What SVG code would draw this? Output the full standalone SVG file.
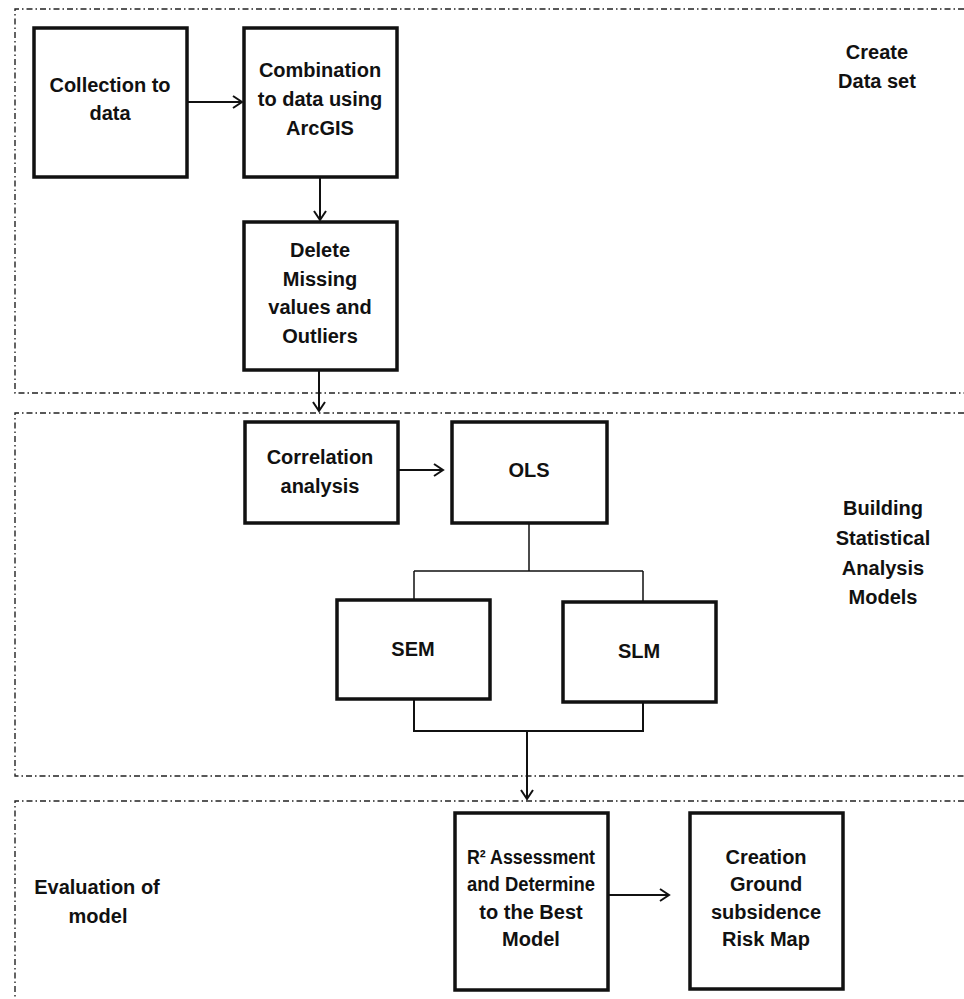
<svg xmlns="http://www.w3.org/2000/svg" width="964" height="999" viewBox="0 0 964 999">
<defs>
<marker id="arr" markerWidth="14" markerHeight="14" refX="11" refY="7" orient="auto" markerUnits="userSpaceOnUse">
<polyline points="2,1 11,7 2,13" fill="none" stroke="#111" stroke-width="2"/>
</marker>
<style>
.frame{fill:none;stroke:#222;stroke-width:1.4;stroke-dasharray:6,3,1.5,3}
.box{fill:#fff;stroke:#111;stroke-width:3.5}
.t{font-family:"Liberation Sans",Arial,sans-serif;font-weight:bold;font-size:20px;fill:#111;text-anchor:middle;dominant-baseline:central}
.c{fill:none;stroke:#111;stroke-width:2}
.thin{fill:none;stroke:#111;stroke-width:1.5}
</style>
</defs>
<rect width="964" height="999" fill="#fff"/>
<g id="frames">
<path class="frame" d="M964,9 H15 V393 H964"/>
<path class="frame" d="M964,413 H15 V776 H964"/>
<path class="frame" d="M964,801 H15 V999"/>
</g>
<g id="labels">
<text class="t" x="877" y="52">Create</text>
<text class="t" x="877" y="81">Data set</text>
<text class="t" x="883" y="508">Building</text>
<text class="t" x="883" y="538">Statistical</text>
<text class="t" x="883" y="568">Analysis</text>
<text class="t" x="883" y="597">Models</text>
<text class="t" x="97" y="887">Evaluation of</text>
<text class="t" x="98" y="916">model</text>
</g>
<g id="connectors">
<line class="c" x1="187" y1="102" x2="242" y2="102" marker-end="url(#arr)"/>
<line class="c" x1="320" y1="177" x2="320" y2="220" marker-end="url(#arr)"/>
<line class="c" x1="319" y1="370" x2="319" y2="411" marker-end="url(#arr)"/>
<line class="c" x1="398" y1="470" x2="443" y2="470" marker-end="url(#arr)"/>
<path class="thin" d="M529,523 V571 M414,571 H643 M414,571 V600 M643,571 V602"/>
<path class="c" d="M414,699 V731 H643 V702"/>
<line class="c" x1="527" y1="731" x2="527" y2="799" marker-end="url(#arr)"/>
<line class="c" x1="608" y1="895" x2="669" y2="895" marker-end="url(#arr)"/>
</g>
<g id="n1"><rect class="box" x="34" y="28" width="153" height="149"/>
<text class="t" x="110" y="85">Collection to</text><text class="t" x="110" y="113">data</text></g>
<g id="n2"><rect class="box" x="244" y="28" width="153" height="149"/>
<text class="t" x="320" y="70">Combination</text><text class="t" x="320" y="99">to data using</text><text class="t" x="320" y="128">ArcGIS</text></g>
<g id="n3"><rect class="box" x="244" y="222" width="153" height="148"/>
<text class="t" x="320" y="250">Delete</text><text class="t" x="320" y="279">Missing</text><text class="t" x="320" y="307">values and</text><text class="t" x="320" y="336">Outliers</text></g>
<g id="n4"><rect class="box" x="245" y="422" width="153" height="101"/>
<text class="t" x="320" y="457">Correlation</text><text class="t" x="320" y="486">analysis</text></g>
<g id="n5"><rect class="box" x="452" y="422" width="155" height="101"/>
<text class="t" x="529" y="470">OLS</text></g>
<g id="n6"><rect class="box" x="337" y="600" width="153" height="99"/>
<text class="t" x="413" y="649">SEM</text></g>
<g id="n7"><rect class="box" x="563" y="602" width="153" height="100"/>
<text class="t" x="639" y="651">SLM</text></g>
<g id="n8"><rect class="box" x="455" y="813" width="153" height="177"/>
<text class="t" x="531" y="857" textLength="128" lengthAdjust="spacingAndGlyphs">R² Assessment</text><text class="t" x="531" y="884" textLength="128" lengthAdjust="spacingAndGlyphs">and Determine</text><text class="t" x="531" y="912">to the Best</text><text class="t" x="531" y="939">Model</text></g>
<g id="n9"><rect class="box" x="690" y="813" width="153" height="176"/>
<text class="t" x="766" y="857">Creation</text><text class="t" x="766" y="884">Ground</text><text class="t" x="766" y="912">subsidence</text><text class="t" x="766" y="939">Risk Map</text></g>
</svg>
